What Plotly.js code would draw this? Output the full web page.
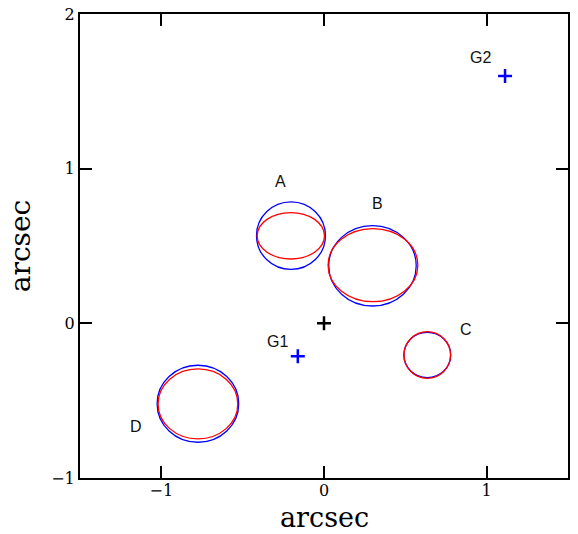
<!DOCTYPE html>
<html>
<head>
<meta charset="utf-8">
<script src="https://cdn.plot.ly/plotly-3.0.1.min.js"></script>
<style>html,body{margin:0;padding:0;background:#fff;}#chart{width:578px;height:534px;}</style>
</head>
<body>
<div id="chart"></div>
<script>
// Image names
var imageNames = ["A", "B", "C", "D"];
// Observed (blue) circles: centre and semi-axes in arcsec
var obsX  = [-0.203, 0.298, 0.635, -0.775];
var obsY  = [0.567, 0.372, -0.205, -0.520];
var obsRx = [0.212, 0.269, 0.144, 0.251];
var obsRy = [0.218, 0.260, 0.146, 0.249];
// Model (red) ellipses
var modX  = [-0.204, 0.301, 0.635, -0.775];
var modY  = [0.566, 0.376, -0.205, -0.521];
var modRx = [0.207, 0.276, 0.143, 0.245];
var modRy = [0.150, 0.236, 0.151, 0.226];
// Image label positions
var labelX = [-0.268, 0.327, 0.871, -1.156];
var labelY = [0.920, 0.774, -0.041, -0.670];
// Galaxies
var galNames = ["G1", "G2"];
var galX = [-0.161, 1.113];
var galY = [-0.213, 1.599];
var galLabelX = [-0.288, 0.959];
var galLabelY = [-0.120, 1.717];
// Centre
var centreX = [0];
var centreY = [0];
// Axis ticks
var xTickVals = [-1, 0, 1];
var xTickText = ['\u22121', '0', '1'];
var yTickVals = [-1, 0, 1, 2];
var yTickText = ['\u22121', '0', '1', '2'];
var xTitle = 'arcsec';
var yTitle = 'arcsec';

var shapes = [];
function addEllipses(cx, cy, rx, ry, color) {
  for (var i = 0; i < cx.length; i++) {
    shapes.push({type: 'circle', xref: 'x', yref: 'y',
      x0: cx[i] - rx[i], x1: cx[i] + rx[i], y0: cy[i] - ry[i], y1: cy[i] + ry[i],
      line: {color: color, width: 1.3}});
  }
}
addEllipses(obsX, obsY, obsRx, obsRy, '#0000ff');
addEllipses(modX, modY, modRx, modRy, '#ff0000');

var annotations = [];
function addLabels(names, xs, ys) {
  for (var i = 0; i < names.length; i++) {
    annotations.push({x: xs[i], y: ys[i], xref: 'x', yref: 'y', text: names[i], showarrow: false,
      font: {family: 'Liberation Sans, Arial, sans-serif', size: 16, color: '#111'}});
  }
}
addLabels(imageNames, labelX, labelY);
addLabels(galNames, galLabelX, galLabelY);
// x-axis title placed as an annotation below the tick labels
annotations.push({xref: 'paper', yref: 'paper', x: 0.5, y: -0.0845, xanchor: 'center', yanchor: 'middle',
  text: xTitle, showarrow: false, borderpad: 0,
  font: {family: 'DejaVu Serif, serif', size: 27, color: '#000'}});

var traces = [
  {x: galX, y: galY, mode: 'markers', type: 'scatter', hoverinfo: 'skip',
   marker: {symbol: 'cross-thin', size: 10, line: {color: '#0000ff', width: 2.5}}},
  {x: centreX, y: centreY, mode: 'markers', type: 'scatter', hoverinfo: 'skip',
   marker: {symbol: 'cross-thin', size: 10, line: {color: '#000000', width: 2.5}}}
];

var axisCommon = {
  showgrid: false, zeroline: false, showline: true, linecolor: '#000', linewidth: 2,
  mirror: 'allticks', ticks: 'inside', ticklen: 12, tickwidth: 2, tickcolor: '#000',
  tickfont: {family: 'DejaVu Serif, serif', size: 16, color: '#000'}
};

var layout = {
  width: 578, height: 534,
  margin: {l: 80, r: 10, t: 14, b: 56},
  paper_bgcolor: '#fff', plot_bgcolor: '#fff',
  showlegend: false,
  xaxis: Object.assign({}, axisCommon, {range: [-1.5, 1.5], tickvals: xTickVals, ticktext: xTickText,
    ticklabelstandoff: -3}),
  yaxis: Object.assign({}, axisCommon, {range: [-1, 2], tickvals: yTickVals, ticktext: yTickText,
    title: {text: yTitle, font: {family: 'DejaVu Serif, serif', size: 28, color: '#000'}, standoff: 12}}),
  shapes: shapes,
  annotations: annotations
};

Plotly.newPlot('chart', traces, layout, {displayModeBar: false, staticPlot: true});
</script>
</body>
</html>
